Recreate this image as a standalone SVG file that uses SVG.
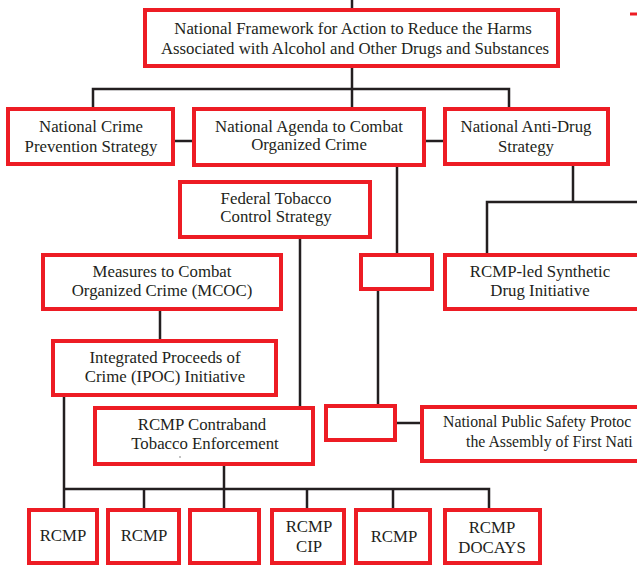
<svg xmlns="http://www.w3.org/2000/svg" width="637" height="568" viewBox="0 0 637 568">
<style>
.box{fill:#fff;stroke:#ed1c24;stroke-width:4}
.open{fill:#fff;stroke:#ed1c24;stroke-width:4}
.con{fill:none;stroke:#231f20;stroke-width:2.5}
text{font-family:"Liberation Serif","DejaVu Serif",serif;font-size:16.8px;fill:#231f20;text-anchor:middle}
.edge{text-anchor:start;font-size:15.8px}
</style>
<rect width="637" height="568" fill="#fff"/>
<g id="connectors">
<path class="con" d="M352,0 V8"/>
<path class="con" d="M352,68 V107"/>
<path class="con" d="M93,107 V89 H509 V107"/>
<path class="con" d="M175,141 H192"/>
<path class="con" d="M426,141 H443"/>
<path class="con" d="M397,167 V253"/>
<path class="con" d="M573,166 V202"/>
<path class="con" d="M487,253 V202 H637"/>
<path class="con" d="M300,239 V406"/>
<path class="con" d="M160,311 V339"/>
<path class="con" d="M378,291 V404"/>
<path class="con" d="M397,423 H420"/>
<path class="con" d="M64,397 V508"/>
<path class="con" d="M64,489 H489 V508"/>
<path class="con" d="M144,489 V508"/>
<path class="con" d="M224,466 V508"/>
<path class="con" d="M307,489 V508"/>
<path class="con" d="M393,489 V508"/>
</g>
<path d="M630,14 H637" stroke="#ed1c24" stroke-width="3"/>
<g id="framework"><rect class="box" x="145" y="10" width="413" height="56"/>
<text x="353" y="34">National Framework for Action to Reduce the Harms</text>
<text x="355" y="54">Associated with Alcohol and Other Drugs and Substances</text></g>
<g id="crime-prevention"><rect class="box" x="8" y="109" width="165" height="55"/>
<text x="91" y="132">National Crime</text><text x="91" y="152">Prevention Strategy</text></g>
<g id="agenda"><rect class="box" x="194" y="109" width="230" height="56"/>
<text x="309" y="132">National Agenda to Combat</text><text x="309" y="150">Organized Crime</text></g>
<g id="anti-drug"><rect class="box" x="445" y="109" width="163" height="55"/>
<text x="526" y="132">National Anti-Drug</text><text x="526" y="152">Strategy</text></g>
<g id="federal-tobacco"><rect class="box" x="180" y="182" width="190" height="55"/>
<text x="276" y="204">Federal Tobacco</text><text x="276" y="222">Control Strategy</text></g>
<g id="mcoc"><rect class="box" x="43" y="255" width="238" height="54"/>
<text x="162" y="277">Measures to Combat</text><text x="162" y="296">Organized Crime (MCOC)</text></g>
<g id="empty1"><rect class="box" x="361" y="255" width="71" height="34"/></g>
<g id="synthetic"><path class="open" d="M637,255 H445 V309 H637"/>
<text x="540" y="277">RCMP-led Synthetic</text><text x="540" y="296">Drug Initiative</text></g>
<g id="ipoc"><rect class="box" x="53" y="341" width="223" height="54"/>
<text x="165" y="363">Integrated Proceeds of</text><text x="165" y="382">Crime (IPOC) Initiative</text></g>
<g id="contraband"><rect class="box" x="95" y="408" width="218" height="56"/>
<text x="202" y="430">RCMP Contraband</text><text x="205" y="449">Tobacco Enforcement</text>
<path d="M180,456 V458" stroke="#888" stroke-width="1"/></g>
<g id="empty2"><rect class="box" x="326" y="406" width="69" height="34"/></g>
<g id="public-safety"><path class="open" d="M637,407 H422 V461 H637"/>
<text class="edge" x="443" y="427">National Public Safety Protoc</text>
<text class="edge" x="466" y="447">the Assembly of First Nati</text></g>
<g id="rcmp1"><rect class="box" x="29" y="510" width="68" height="53"/><text x="63" y="541">RCMP</text></g>
<g id="rcmp2"><rect class="box" x="108" y="510" width="71" height="53"/><text x="144" y="541">RCMP</text></g>
<g id="empty3"><rect class="box" x="190" y="510" width="69" height="53"/></g>
<g id="rcmp-cip"><rect class="box" x="272" y="510" width="72" height="53"/><text x="309" y="532">RCMP</text><text x="309" y="552">CIP</text></g>
<g id="rcmp5"><rect class="box" x="356" y="510" width="74" height="53"/><text x="394" y="542">RCMP</text></g>
<g id="rcmp-docays"><rect class="box" x="445" y="510" width="95" height="53"/><text x="492" y="533">RCMP</text><text x="492" y="553">DOCAYS</text></g>
</svg>
